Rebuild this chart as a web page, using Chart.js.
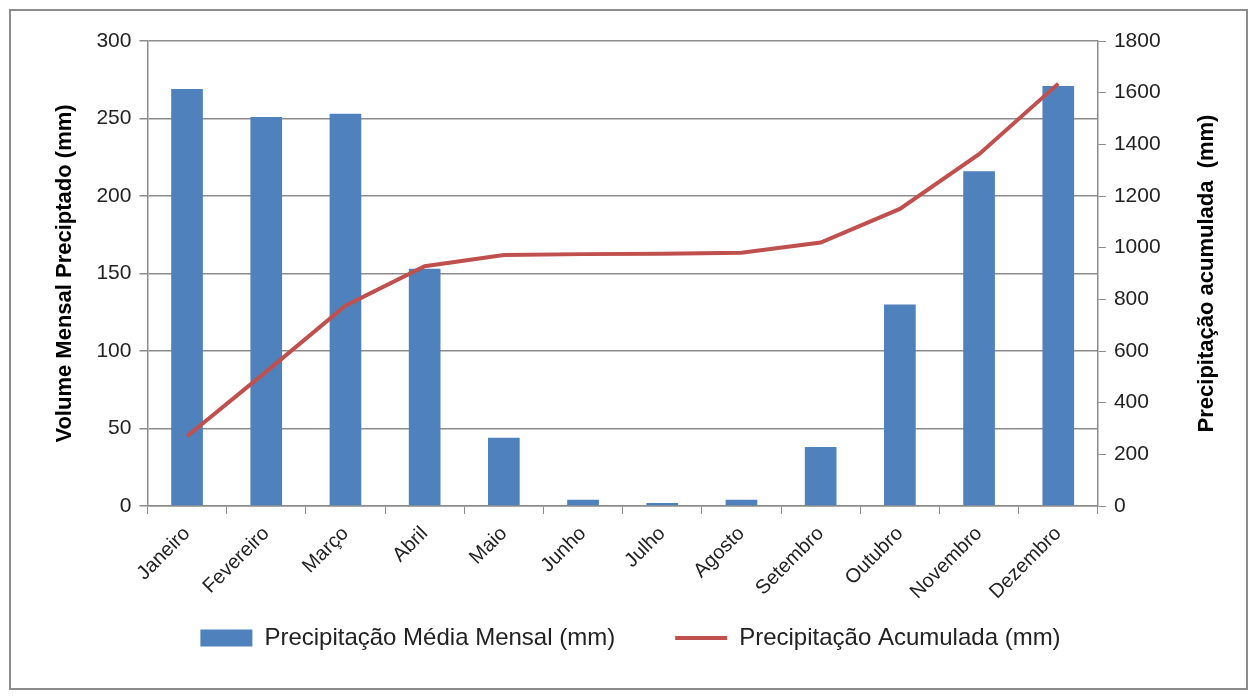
<!DOCTYPE html>
<html>
<head>
<meta charset="utf-8">
<script src="https://cdn.jsdelivr.net/npm/chart.js@4"></script>
<style>
  body { margin: 0; background: #fff; }
  #frame {
    position: absolute; left: 9px; top: 9px;
    width: 1239px; height: 681px;
    border: 2px solid #8c8c8c; box-sizing: border-box;
  }
  #wrap { position: absolute; left: 0; top: 0; width: 1235px; height: 677px; }
</style>
</head>
<body>
<div id="frame"><div id="wrap"><canvas id="chuvaChart"></canvas></div></div>
<script>
// meses e valores
const meses = ['Janeiro', 'Fevereiro', 'Março', 'Abril', 'Maio', 'Junho',
               'Julho', 'Agosto', 'Setembro', 'Outubro', 'Novembro', 'Dezembro'];
const mediaMensal = [269, 251, 253, 153, 44, 4, 2, 4, 38, 130, 216, 271];
const acumulada = [270, 520, 775, 928, 972, 975, 976, 980, 1020, 1150, 1362, 1635];
const ticksEsq = [0, 50, 100, 150, 200, 250, 300];
const ticksDir = [0, 200, 400, 600, 800, 1000, 1200, 1400, 1600, 1800];
const tituloDir = 'Precipitação acumulada  (mm)';

const fonte = "'Liberation Sans', Arial, sans-serif";
const cinza = '#8c8c8c';

// titulo do eixo direito lido de baixo para cima, como no Excel
const tituloDireito = {
    id: 'tituloDireito',
    afterDraw(chart) {
        const ax = chart.scales.yDir;
        const ctx = chart.ctx;
        ctx.save();
        ctx.translate(ax.right - 6, (ax.top + ax.bottom) / 2);
        ctx.rotate(-Math.PI / 2);
        ctx.font = "bold 22px " + fonte;
        ctx.fillStyle = '#000';
        ctx.textAlign = 'center';
        ctx.textBaseline = 'middle';
        ctx.fillText(tituloDir, 0, 0);
        ctx.restore();
    }
};

new Chart(document.getElementById('chuvaChart'), {
    data: {
        labels: meses,
        datasets: [
            {
                type: 'line',
                label: 'Precipitação Acumulada (mm)',
                data: acumulada,
                yAxisID: 'yDir',
                borderColor: '#c0504d',
                backgroundColor: '#c0504d',
                borderWidth: 4,
                pointRadius: 0,
                pointStyle: 'line',
                tension: 0,
                order: 1
            },
            {
                type: 'bar',
                label: 'Precipitação Média Mensal (mm)',
                data: mediaMensal,
                yAxisID: 'yEsq',
                backgroundColor: '#4f81bd',
                borderColor: '#4f81bd',
                borderWidth: 0,
                pointStyle: 'rect',
                barPercentage: 0.4,
                categoryPercentage: 1,
                order: 2
            }
        ]
    },
    options: {
        responsive: true,
        maintainAspectRatio: false,
        animation: false,
        layout: { padding: { left: 37, right: 33, top: 30, bottom: 28 } },
        plugins: {
            legend: {
                position: 'bottom',
                reverse: true,
                labels: {
                    usePointStyle: true,
                    pointStyleWidth: 52,
                    boxHeight: 17,
                    padding: 20,
                    color: '#222',
                    font: { family: fonte, size: 24 },
                    // espaco extra depois do primeiro item
                    generateLabels: (chart) => {
                        const itens = Chart.defaults.plugins.legend.labels.generateLabels(chart);
                        itens.forEach(it => {
                            if (it.datasetIndex === 1) it.text = it.text + '      ';
                        });
                        return itens;
                    }
                }
            },
            tooltip: { enabled: false }
        },
        scales: {
            x: {
                afterFit: (ax) => { ax.height = 100; },
                grid: {
                    display: true,
                    offset: true,
                    drawOnChartArea: false,
                    drawTicks: true,
                    tickLength: 8,
                    color: cinza
                },
                border: { color: cinza, width: 1.5 },
                ticks: {
                    color: '#222',
                    font: { family: fonte, size: 20 },
                    maxRotation: 45,
                    minRotation: 45,
                    padding: 8
                }
            },
            yEsq: {
                position: 'left',
                min: 0,
                max: 300,
                afterBuildTicks: (ax) => { ax.ticks = ticksEsq.map(v => ({ value: v })); },
                grid: { color: cinza, lineWidth: 1.5, tickLength: 8 },
                border: { color: cinza, width: 1.5 },
                ticks: { color: '#222', font: { family: fonte, size: 21 }, padding: 8 },
                title: {
                    display: true,
                    text: 'Volume Mensal Preciptado (mm)',
                    color: '#000',
                    font: { family: fonte, size: 22, weight: 'bold' },
                    padding: { bottom: 10 }
                }
            },
            yDir: {
                position: 'right',
                min: 0,
                max: 1800,
                afterBuildTicks: (ax) => { ax.ticks = ticksDir.map(v => ({ value: v })); },
                grid: { drawOnChartArea: false, color: cinza, tickLength: 8 },
                border: { color: cinza, width: 1.5 },
                ticks: {
                    color: '#222',
                    font: { family: fonte, size: 21 },
                    padding: 8,
                    callback: (v) => String(v)
                },
                title: {
                    display: true,
                    text: tituloDir,
                    color: 'rgba(0,0,0,0)',
                    font: { family: fonte, size: 22, weight: 'bold' },
                    padding: { top: 14 }
                }
            }
        }
    },
    plugins: [tituloDireito]
});
</script>
</body>
</html>
